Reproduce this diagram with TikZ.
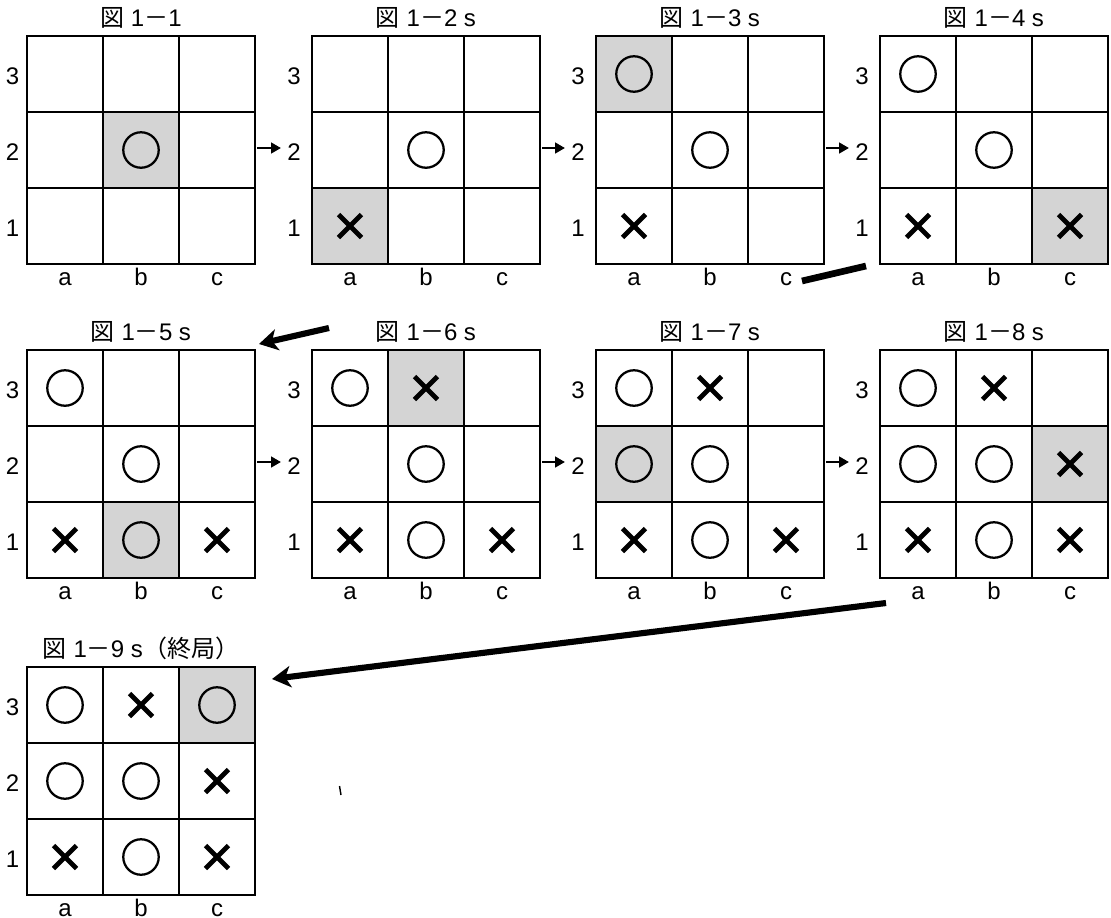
\documentclass[tikz,border=0pt]{standalone}
\usepackage{fontspec}
\setmainfont{Liberation Sans}
\newfontfamily\jpfont{Noto Sans CJK JP}
\usetikzlibrary{arrows.meta}

\tikzset{
  cellline/.style={line width=1pt, black},
  marked/.style={fill=black!17},
  frame/.style={draw, line width=1pt, minimum size=171pt, inner sep=0pt, outer sep=0pt},
  lbl/.style={inner sep=0pt, font=\fontsize{18}{20}\selectfont},
  ttl/.style={inner sep=0pt, anchor=base, font=\fontsize{18}{20}\selectfont},
  maru/.style={line width=1.7pt},
  batsu/.style={line width=3.5pt},
  stepto/.style={line width=2.2pt, -{Triangle[length=7.5pt,width=8pt]}},
  jump/.style={line width=4.6pt, -{Stealth[length=14pt,width=16pt,inset=4pt]}},
  rowbreak/.style={line width=5pt},
}

% #1 name, #2 left, #3 top, #4 title, #5 shaded cell col/row,
% #6 circles, #7 crosses, #8 gap of the row numbers
\newcommand\goboard[8]{%
\begin{scope}[shift={(#2,#3)}]
  \foreach \c/\r in {#5} \fill[marked] (76*\c,228-76*\r) rectangle ++(76,76);
  \foreach \k in {76,152} {
    \draw[cellline] (\k,0) -- (\k,228);
    \draw[cellline] (0,\k) -- (228,\k);
  }
  \node[frame] (#1) at (114,114) {};
  \node[ttl] (#1-title) at (114,-10) {#4};
  \foreach \c/\n in {0/a,1/b,2/c}
    \node[lbl, anchor=base] (#1-col-\n) at (38+76*\c,249) {\n};
  \foreach \r in {1,2,3}
    \node[lbl] (#1-row-\r) at (-#8,268-76*\r) {\r};
  \foreach \c/\r in {#6}
    \draw[maru] (38+76*\c,266-76*\r) circle (13.3pt);
  \if\relax\detokenize{#7}\relax\else
  \foreach \c/\r in {#7}
    \draw[batsu] (26.5+76*\c,254.5-76*\r) -- ++(23,23)
                 (26.5+76*\c,277.5-76*\r) -- ++(23,-23);
  \fi
\end{scope}}

\newcommand\fig[1]{{\jpfont 図} 1{\jpfont －}#1}

\begin{document}
\begin{tikzpicture}[x=0.75pt, y=-0.75pt]
\useasboundingbox (0,0) rectangle (1111,918);

% first row
\goboard{b1}{27}{36}{\fig{1}}{1/2}{1/2}{}{14.5}
\goboard{b2}{312}{36}{\fig{2} s}{0/1}{1/2}{0/1}{18}
\goboard{b3}{596}{36}{\fig{3} s}{0/3}{0/3,1/2}{0/1}{18}
\goboard{b4}{880}{36}{\fig{4} s}{2/1}{0/3,1/2}{0/1,2/1}{18}

% second row
\goboard{b5}{27}{350}{\fig{5} s}{1/1}{0/3,1/2,1/1}{0/1,2/1}{14.5}
\goboard{b6}{312}{350}{\fig{6} s}{1/3}{0/3,1/2,1/1}{0/1,2/1,1/3}{18}
\goboard{b7}{596}{350}{\fig{7} s}{0/2}{0/3,1/2,1/1,0/2}{0/1,2/1,1/3}{18}
\goboard{b8}{880}{350}{\fig{8} s}{2/2}{0/3,1/2,1/1,0/2}{0/1,2/1,1/3,2/2}{18}

% third row
\goboard{b9}{27}{667}{\fig{9} s{\jpfont （終局）}}{2/3}{0/3,1/2,1/1,0/2,2/3}{0/1,2/1,1/3,2/2}{14.5}

% moves within a row
\foreach \a/\b in {b1/b2,b2/b3,b3/b4,b5/b6,b6/b7,b7/b8}
  \draw[stepto] ([shift={(2,-2)}]\a.east) -- ([shift={(-31,-2)}]\b.west);

% from the first row down to the second
\coordinate (r1out) at (802,281);
\coordinate (r1in) at (866,266);
\draw[rowbreak] (r1out) -- (r1in);
\coordinate (r2out) at (329,328);
\draw[jump] (r2out) -- ([shift={(4,-6)}]b5.north east);

% from the second row down to the third
\coordinate (r3out) at (886,603);
\draw[jump] (r3out) -- ([shift={(17,12)}]b9.north east);

% stray tick
\draw[line width=1.1pt] (339.5,786) -- (341,795);
\end{tikzpicture}
\end{document}
